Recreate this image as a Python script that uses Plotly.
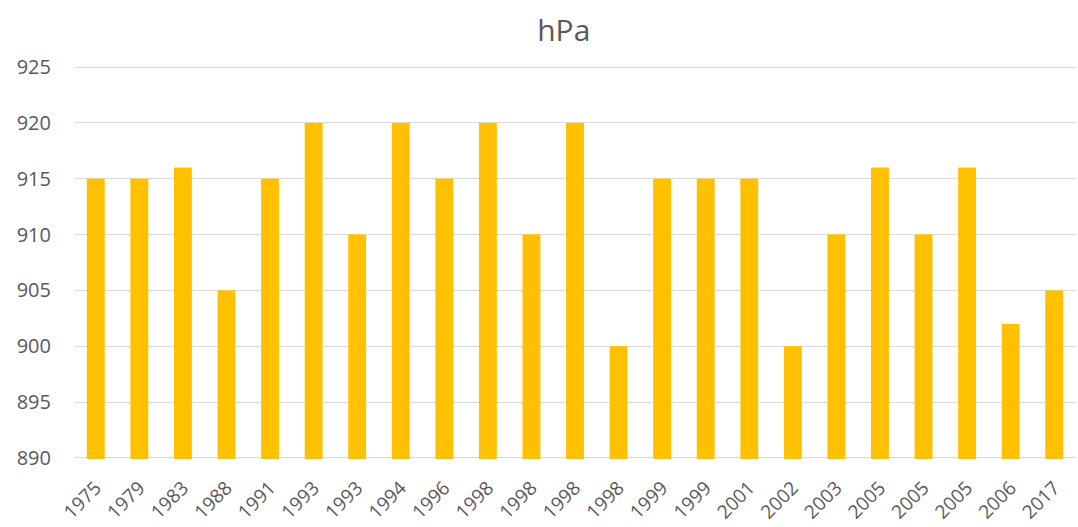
import plotly.graph_objects as go

years = ["1975", "1979", "1983", "1988", "1991", "1993", "1993", "1994", "1996", "1998",
         "1998", "1998", "1998", "1999", "1999", "2001", "2002", "2003", "2005", "2005",
         "2005", "2006", "2017"]
pressure_hpa = [915, 915, 916, 905, 915, 920, 910, 920, 915, 920,
                910, 920, 900, 915, 915, 915, 900, 910, 916, 910,
                916, 902, 905]
y_ticks = [890, 895, 900, 905, 910, 915, 920, 925]

idx = list(range(len(years)))

fig = go.Figure(go.Bar(
    x=idx, y=pressure_hpa,
    marker=dict(color="#FFC000", line=dict(width=0)),
    width=0.41,
))

fig.update_layout(
    width=1078, height=527,
    margin=dict(l=74, r=2, t=66, b=68, autoexpand=False),
    paper_bgcolor="white", plot_bgcolor="white",
    title=dict(text="hPa", x=0.523, xanchor="center", y=0.943, yanchor="middle",
               font=dict(family="Open Sans, Noto Sans, sans-serif", size=30, color="#595959")),
    font=dict(family="Open Sans, Noto Sans, sans-serif", size=19, color="#595959"),
    showlegend=False,
    bargap=0.59,
)
fig.update_xaxes(
    tickmode="array", tickvals=idx, ticktext=years, tickangle=-45,
    range=[-0.5, len(years) - 0.5], showgrid=False, showline=False, ticks="",
    tickfont=dict(size=19, color="#595959"), automargin=False, ticklabelstandoff=13,
)
fig.update_yaxes(
    range=[889.9, 925.1], tickmode="array", tickvals=y_ticks,
    showgrid=True, gridcolor="#D9D9D9", gridwidth=1, zeroline=False,
    showline=False, ticks="", ticklabelstandoff=22, automargin=False,
    tickfont=dict(size=20, color="#595959"),
)

fig.write_html("out.html", post_script="document.body.style.margin='0';",
               config={"displayModeBar": False})
